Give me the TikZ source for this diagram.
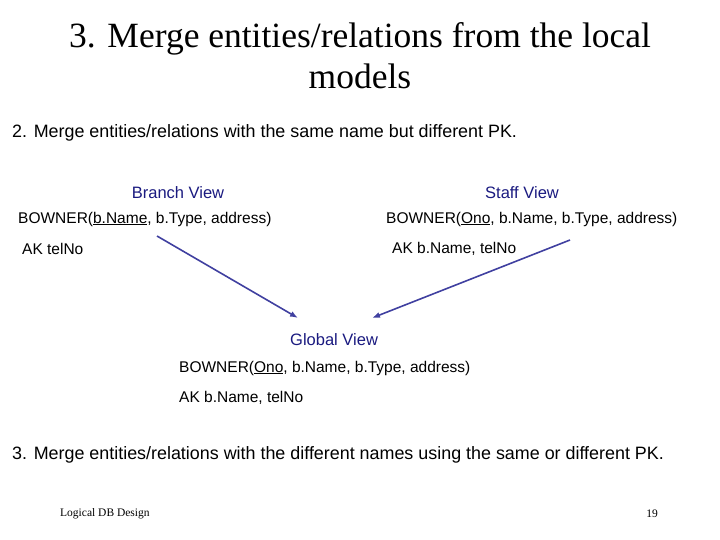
\documentclass[tikz,border=0pt]{standalone}
\usepackage{fontspec}
\usetikzlibrary{arrows.meta}
\setmainfont{Liberation Sans}
\newfontfamily\serif{Liberation Serif}
\begin{document}
\begin{tikzpicture}[x=1pt,y=-1pt,
  txt/.style={anchor=west,inner sep=0pt,font=\fontsize{15.5}{18}\selectfont},
  head/.style={inner sep=0pt,text=navy,font=\fontsize{16.5}{19}\selectfont},
  arr/.style={draw=arrc,line width=1.6pt,-{Latex[length=8pt,width=6pt]}}]
\definecolor{navy}{HTML}{1A1A80}
\definecolor{arrc}{HTML}{4040A0}
\useasboundingbox (0,0) rectangle (720,540);
\node[inner sep=0pt,align=center,font=\serif\fontsize{35.5}{41}\selectfont] (t) at (360,56) {3. Merge entities/relations from the local\\models};
\node[txt,font=\fontsize{17.9}{20}\selectfont] (l1) at (12,133) {2. Merge entities/relations with the same name but different PK.};
\node[head] (bv) at (178,193) {Branch View};
\node[head] (sv) at (522,193) {Staff View};
\node[txt] (b1) at (18,219) {BOWNER(\underline{b.Name}, b.Type, address)};
\node[txt] (b2) at (22,249) {AK telNo};
\node[txt] (s1) at (386,219) {BOWNER(\underline{Ono}, b.Name, b.Type, address)};
\node[txt] (s2) at (392,249) {AK b.Name, telNo};
\node[head,anchor=west] (gv) at (290,340) {Global View};
\node[txt] (g1) at (179,368) {BOWNER(\underline{Ono}, b.Name, b.Type, address)};
\node[txt] (g2) at (179,398) {AK b.Name, telNo};
\node[txt,font=\fontsize{17.9}{20}\selectfont] (l2) at (12,455) {3. Merge entities/relations with the different names using the same or different PK.};
\node[txt,font=\serif\fontsize{11.5}{13}\selectfont] (f1) at (60,514) {Logical DB Design};
\node[inner sep=0pt,anchor=east,font=\serif\fontsize{11.5}{13}\selectfont] (f2) at (658,514) {19};
\coordinate (a1) at (157,236); \coordinate (e1) at (298,318);
\coordinate (a2) at (570,240); \coordinate (e2) at (372,318);
\draw[arr] (a1) -- (e1);
\draw[arr] (a2) -- (e2);
\end{tikzpicture}
\end{document}
